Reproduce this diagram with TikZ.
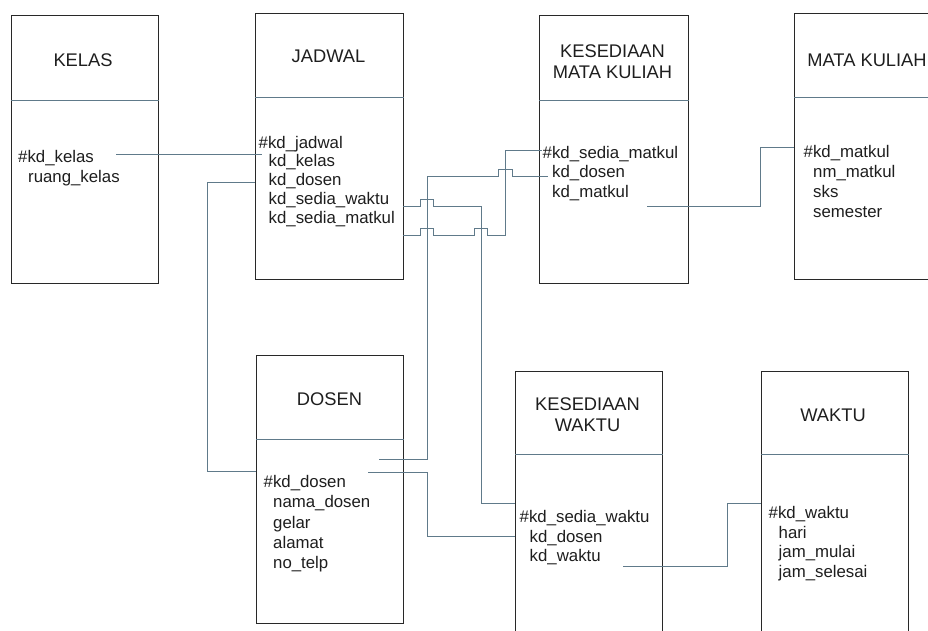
\documentclass[tikz,border=0pt]{standalone}
\usepackage{fontspec}
\setmainfont{Liberation Sans}
\definecolor{linkcol}{RGB}{96,122,138}
\definecolor{boxcol}{RGB}{40,40,40}
\definecolor{txtcol}{RGB}{30,30,30}
\newcommand\erdfont{\fontsize{16.8}{20}\selectfont}
\newcommand\erdtitlefont{\fontsize{18.3}{21}\selectfont}
\begin{document}
\begin{tikzpicture}[x=1pt,y=-1pt,
  entity/.style={draw=boxcol,line width=1pt,anchor=north west,inner sep=0pt,minimum width=147pt},
  divider/.style={draw=linkcol,line width=1pt},
  link/.style={draw=linkcol,line width=1pt},
  title/.style={font=\erdtitlefont,text=txtcol,align=center,inner sep=0pt},
  attr/.style={font=\erdfont,text=txtcol,anchor=base west,inner sep=0pt}]
\useasboundingbox (0,0) rectangle (928,630);
\fill[white] (0,0) rectangle (928,630);
\clip (0,0) rectangle (928,630);

% ---------- entities ----------
\node[entity,minimum height=268pt] (kelas) at (11,15) {};
\node[entity,minimum height=266pt,minimum width=148pt] (jadwal) at (255,13) {};
\node[entity,minimum height=268pt,minimum width=149pt] (ksm) at (539,15) {};
\node[entity,minimum height=266pt] (mk) at (794,13) {};
\node[entity,minimum height=268pt] (dosen) at (256,355) {};
\node[entity,minimum height=300pt] (kw) at (515,371) {};
\node[entity,minimum height=300pt] (waktu) at (761,371) {};

\draw[divider] (kelas.west |- 0,100) -- (kelas.east |- 0,100);
\draw[divider] (jadwal.west |- 0,97) -- (jadwal.east |- 0,97);
\draw[divider] (ksm.west |- 0,100) -- (ksm.east |- 0,100);
\draw[divider] (mk.west |- 0,97) -- (mk.east |- 0,97);
\draw[divider] (dosen.west |- 0,439) -- (dosen.east |- 0,439);
\draw[divider] (kw.west |- 0,454) -- (kw.east |- 0,454);
\draw[divider] (waktu.west |- 0,454) -- (waktu.east |- 0,454);

% ---------- titles ----------
\node[title] (kelas-t) at (83,60) {KELAS};
\node[title] (jadwal-t) at (328.5,56.5) {JADWAL};
\node[title] (ksm-t) at (612.5,61.5) {KESEDIAAN\\MATA KULIAH};
\node[title] (mk-t) at (867,60) {MATA KULIAH};
\node[title] (dosen-t) at (329.5,399) {DOSEN};
\node[title] (kw-t) at (587.5,415) {KESEDIAAN\\WAKTU};
\node[title] (waktu-t) at (833,415) {WAKTU};

% ---------- attributes ----------
\node[attr] (kelas-a1) at (18,162) {\#kd\_kelas};
\node[attr] (kelas-a2) at (28,182) {ruang\_kelas};

\node[attr] (jadwal-a1) at (258.5,148) {\#kd\_jadwal};
\node[attr] (jadwal-a2) at (268.5,166.5) {kd\_kelas};
\node[attr] (jadwal-a3) at (268.5,185.5) {kd\_dosen};
\node[attr] (jadwal-a4) at (268.5,204.5) {kd\_sedia\_waktu};
\node[attr] (jadwal-a5) at (268.5,223.5) {kd\_sedia\_matkul};

\node[attr] (ksm-a1) at (542.5,158) {\#kd\_sedia\_matkul};
\node[attr] (ksm-a2) at (552,177.5) {kd\_dosen};
\node[attr] (ksm-a3) at (552,197) {kd\_matkul};

\node[attr] (mk-a1) at (803.5,157) {\#kd\_matkul};
\node[attr] (mk-a2) at (813,177) {nm\_matkul};
\node[attr] (mk-a3) at (813,197) {sks};
\node[attr] (mk-a4) at (813,217) {semester};

\node[attr] (dosen-a1) at (263.5,487) {\#kd\_dosen};
\node[attr] (dosen-a2) at (273,507.5) {nama\_dosen};
\node[attr] (dosen-a3) at (273,528) {gelar};
\node[attr] (dosen-a4) at (273,548) {alamat};
\node[attr] (dosen-a5) at (273,568) {no\_telp};

\node[attr] (kw-a1) at (519.5,522.5) {\#kd\_sedia\_waktu};
\node[attr] (kw-a2) at (529.5,542) {kd\_dosen};
\node[attr] (kw-a3) at (529.5,561.5) {kd\_waktu};

\node[attr] (waktu-a1) at (768.5,518) {\#kd\_waktu};
\node[attr] (waktu-a2) at (778.5,538) {hari};
\node[attr] (waktu-a3) at (778.5,557.5) {jam\_mulai};
\node[attr] (waktu-a4) at (778.5,577) {jam\_selesai};

% ---------- connector end points ----------
\coordinate (c1a) at (116,154);   \coordinate (c1b) at (262,154);
\coordinate (c2a) at (255,182);   \coordinate (c2b) at (256,471);
\coordinate (c3a) at (379,459);   \coordinate (c3b) at (548,176);
\coordinate (c4a) at (403,235);   \coordinate (c4b) at (542,150);
\coordinate (c5a) at (403,206);   \coordinate (c5b) at (515,503);
\coordinate (c6a) at (368,472);   \coordinate (c6b) at (515,536);
\coordinate (c7a) at (647,206);   \coordinate (c7b) at (794,147);
\coordinate (c8a) at (623,566);   \coordinate (c8b) at (761,503);

% kelas -> jadwal
\draw[link] (c1a) -- (c1b);
% jadwal.kd_dosen -> dosen
\draw[link] (c2a) -- (207,182) -- (207,471) -- (c2b);
% dosen -> ksm.kd_dosen (with hop)
\draw[link] (c3a) -- (427,459) -- (427,176) -- (498,176) -- (498,169) -- (512,169) -- (512,176) -- (c3b);
% jadwal.kd_sedia_matkul -> ksm (two hops)
\draw[link] (c4a) -- (420,235) -- (420,228) -- (433,228) -- (433,235)
  -- (474,235) -- (474,228) -- (487,228) -- (487,235) -- (505,235) -- (505,150) -- (c4b);
% jadwal.kd_sedia_waktu -> kesediaan waktu (one hop)
\draw[link] (c5a) -- (420,206) -- (420,199) -- (433,199) -- (433,206) -- (481,206) -- (481,503) -- (c5b);
% dosen -> kesediaan waktu.kd_dosen
\draw[link] (c6a) -- (427,472) -- (427,536) -- (c6b);
% ksm.kd_matkul -> mata kuliah
\draw[link] (c7a) -- (760,206) -- (760,147) -- (c7b);
% kw.kd_waktu -> waktu
\draw[link] (c8a) -- (727,566) -- (727,503) -- (c8b);
\end{tikzpicture}
\end{document}
